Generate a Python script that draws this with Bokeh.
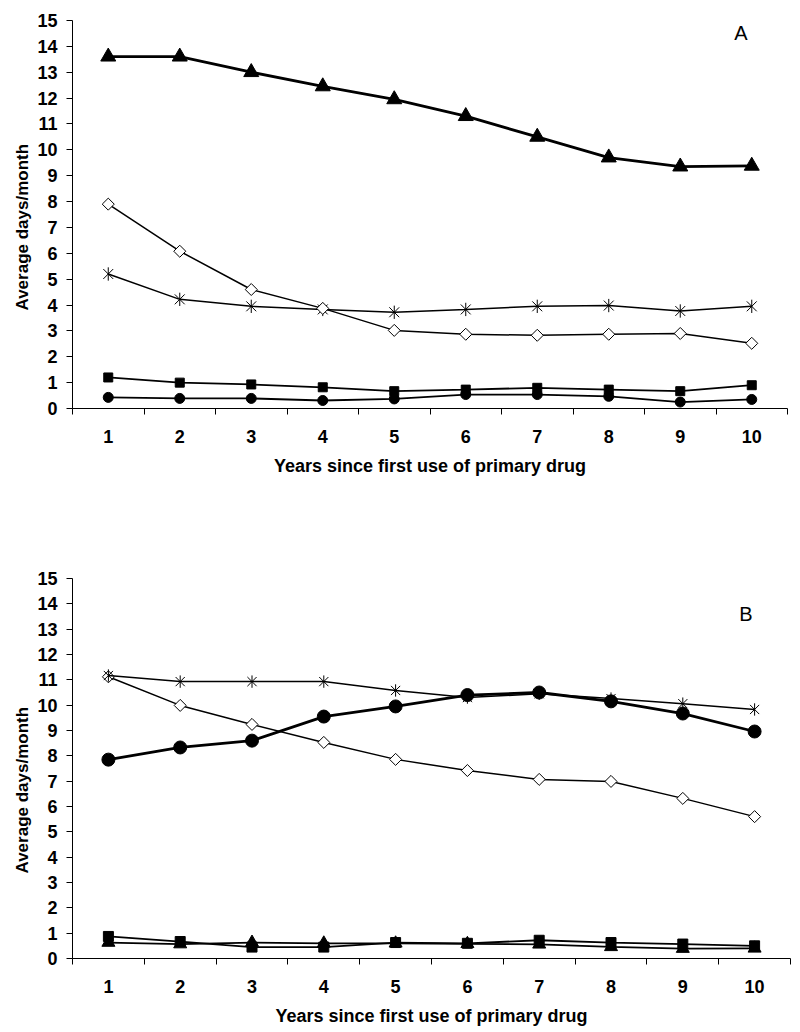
import math
from bokeh.plotting import figure
from bokeh.models import FixedTicker, Range1d, Label, Title
from bokeh.layouts import column
from bokeh.embed import file_html
from bokeh.resources import INLINE

years = [1, 2, 3, 4, 5, 6, 7, 8, 9, 10]
y_ticks = list(range(0, 16))
x_title = "Years since first use of primary drug"
y_title = "Average days/month"

# Panel A
A_triangle = [13.6, 13.6, 13.0, 12.45, 11.95, 11.3, 10.5, 9.7, 9.35, 9.38]
A_diamond = [7.9, 6.08, 4.6, 3.87, 3.02, 2.87, 2.83, 2.87, 2.9, 2.52]
A_star = [5.2, 4.22, 3.95, 3.83, 3.72, 3.83, 3.95, 3.98, 3.77, 3.95]
A_square = [1.2, 1.0, 0.93, 0.82, 0.67, 0.73, 0.8, 0.73, 0.67, 0.9]
A_circle = [0.43, 0.39, 0.39, 0.31, 0.37, 0.54, 0.54, 0.47, 0.25, 0.35]

# Panel B
B_star = [11.17, 10.93, 10.93, 10.93, 10.58, 10.3, 10.45, 10.26, 10.06, 9.83]
B_circle = [7.85, 8.33, 8.6, 9.55, 9.95, 10.4, 10.5, 10.15, 9.67, 8.96]
B_diamond = [11.12, 9.99, 9.24, 8.53, 7.86, 7.42, 7.07, 6.99, 6.32, 5.6]
B_square = [0.87, 0.67, 0.45, 0.45, 0.63, 0.6, 0.72, 0.63, 0.57, 0.5]
B_triangle = [0.63, 0.57, 0.63, 0.6, 0.6, 0.58, 0.56, 0.46, 0.39, 0.4]

FONT = "Liberation Sans"


def make_fig(frame_w, frame_h, top, bottom, left, ytitle_offset):
    p = figure(frame_width=frame_w, frame_height=frame_h,
               x_range=Range1d(0.5, 10.5), y_range=Range1d(0, 15),
               output_backend="svg", toolbar_location=None,
               min_border_top=top, min_border_bottom=bottom,
               min_border_left=left, min_border_right=5)
    p.outline_line_color = None
    p.grid.visible = False
    p.background_fill_color = "white"
    boundaries = [y - 0.5 for y in years] + [years[-1] + 0.5]
    p.xaxis.ticker = FixedTicker(ticks=years, minor_ticks=boundaries)
    p.yaxis.ticker = FixedTicker(ticks=y_ticks)
    for ax in (p.xaxis[0], p.yaxis[0]):
        ax.axis_line_color = "black"
        ax.axis_line_width = 1
        ax.major_label_text_font = FONT
        ax.major_label_text_font_style = "bold"
        ax.major_label_text_font_size = "18px"
        ax.major_label_text_color = "black"
        ax.axis_label_text_font = FONT
        ax.axis_label_text_font_style = "bold"
        ax.axis_label_text_color = "black"
    xa = p.xaxis[0]
    xa.major_tick_out = 0
    xa.major_tick_in = 0
    xa.minor_tick_out = 6
    xa.minor_tick_in = 0
    xa.minor_tick_line_color = "black"
    xa.major_label_standoff = 15
    xa.axis_label = x_title
    xa.axis_label_text_font_size = "18px"
    xa.axis_label_standoff = 10
    ya = p.yaxis[0]
    ya.major_tick_out = 6
    ya.major_tick_in = 0
    ya.major_tick_line_color = "black"
    ya.minor_tick_line_color = None
    ya.major_label_standoff = 9
    t = Title(text=y_title, align="left", offset=ytitle_offset,
              text_font=FONT, text_font_style="bold", text_font_size="17px",
              text_color="black", standoff=6)
    p.add_layout(t, "left")
    return p


def series(p, ys, kind, lw, size):
    p.line(years, ys, line_color="black", line_width=lw)
    if kind == "triangle":
        p.scatter(years, ys, marker="triangle", size=size, fill_color="black", line_color="black")
    elif kind == "circle":
        p.scatter(years, ys, marker="circle", size=size, fill_color="black", line_color="black")
    elif kind == "square":
        p.scatter(years, ys, marker="square", size=size, fill_color="black", line_color="black")
    elif kind == "diamond":
        p.scatter(years, ys, marker="square", angle=math.pi / 4, size=size,
                  fill_color="white", line_color="black", line_width=1)
    elif kind == "star":
        p.scatter(years, ys, marker="x", size=size, line_color="black", line_width=1)
        p.scatter(years, ys, marker="dash", angle=math.pi / 2, size=size * 0.95,
                  line_color="black", line_width=1)


pA = make_fig(715, 388, 20, 90, 72, 98)
series(pA, A_circle, "circle", 1.8, 10)
series(pA, A_square, "square", 1.8, 9)
series(pA, A_star, "star", 1.5, 14)
series(pA, A_diamond, "diamond", 1.5, 8.5)
series(pA, A_triangle, "triangle", 2.8, 15)
pA.add_layout(Label(x=9.85, y=14.5, text="A", text_font=FONT, text_font_size="20px",
                    text_align="center", text_baseline="middle", text_color="black"))

pB = make_fig(718, 380, 80, 70, 69, 85)
series(pB, B_triangle, "triangle", 1.8, 13)
series(pB, B_square, "square", 1.8, 10)
series(pB, B_circle, "circle", 2.8, 13)
series(pB, B_diamond, "diamond", 1.5, 8.5)
series(pB, B_star, "star", 1.5, 13)
pB.add_layout(Label(x=9.88, y=13.6, text="B", text_font=FONT, text_font_size="20px",
                    text_align="center", text_baseline="middle", text_color="black"))

layout = column(pA, pB, spacing=0)
open("out.html", "w").write(file_html(layout, INLINE))
